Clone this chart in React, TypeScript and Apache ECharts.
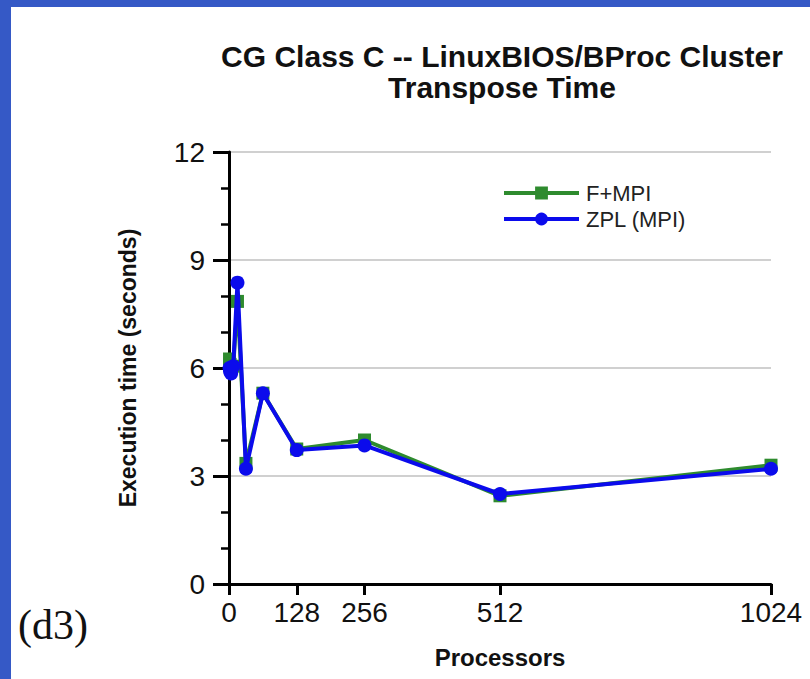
import React, { useEffect, useRef } from "react";
import * as echarts from "echarts";

const processors = [1, 2, 4, 8, 16, 32, 64, 128, 256, 512, 1024];
const fMpi = [6.25, 6.1, 6.0, 6.05, 7.85, 3.35, 5.3, 3.75, 4.0, 2.45, 3.3];
const zplMpi = [6.0, 5.9, 5.85, 6.05, 8.37, 3.2, 5.3, 3.72, 3.85, 2.5, 3.2];
const xTickValues = [0, 128, 256, 512, 1024];
const seriesNames = ["F+MPI", "ZPL (MPI)"];
const titleText = "CG Class C -- LinuxBIOS/BProc Cluster\nTranspose Time";
const xName = "Processors";
const yName = "Execution time (seconds)";
const panelLabel = "(d3)";

const SANS = "'Liberation Sans', Arial, Helvetica, sans-serif";

export default function App() {
  const ref = useRef<HTMLDivElement>(null);
  useEffect(() => {
    const chart = echarts.init(ref.current!, null, { renderer: "svg" });
    chart.setOption({
      animation: false,
      backgroundColor: "#ffffff",
      textStyle: { fontFamily: SANS },
      title: {
        text: titleText,
        left: 497,
        top: 36,
        textAlign: "center",
        textStyle: {
          fontFamily: SANS,
          fontWeight: "bold",
          fontSize: 30,
          lineHeight: 31,
          color: "#111",
        },
      },
      legend: {
        orient: "vertical",
        left: 497,
        top: 177,
        itemWidth: 75,
        itemHeight: 16,
        itemGap: 4,
        data: seriesNames,
        lineStyle: { width: 4 },
        textStyle: { fontFamily: SANS, fontSize: 22, color: "#222", padding: [0, 0, 0, 2] },
      },
      grid: { left: 229, right: 39, top: 152, bottom: 95 },
      xAxis: {
        type: "value",
        min: 0,
        max: 1024,
        interval: 128,
        name: xName,
        nameLocation: "middle",
        nameGap: 61,
        nameTextStyle: { fontFamily: SANS, fontWeight: "bold", fontSize: 24, color: "#111" },
        axisLine: { show: true, onZero: false, lineStyle: { color: "#000", width: 3 } },
        axisTick: {
          show: true,
          customValues: xTickValues,
          length: 11,
          lineStyle: { color: "#000", width: 3 },
        },
        axisLabel: {
          customValues: xTickValues,
          formatter: (v: number) => String(v),
          margin: 14,
          fontFamily: SANS,
          fontSize: 28,
          color: "#111",
        },
        splitLine: { show: false },
      },
      yAxis: {
        type: "value",
        min: 0,
        max: 12,
        interval: 3,
        name: yName,
        nameLocation: "middle",
        nameGap: 90,
        nameRotate: 90,
        nameTextStyle: { fontFamily: SANS, fontWeight: "bold", fontSize: 23, color: "#111" },
        axisLine: { show: true, lineStyle: { color: "#000", width: 3 } },
        axisTick: { show: true, length: 16, lineStyle: { color: "#000", width: 3 } },
        minorTick: { show: true, splitNumber: 3, length: 8, lineStyle: { color: "#000", width: 2.5 } },
        axisLabel: { margin: 24, fontFamily: SANS, fontSize: 28, color: "#111" },
        splitLine: { show: true, lineStyle: { color: "#d0d0d0", width: 2 } },
      },
      series: [
        {
          name: seriesNames[0],
          type: "line",
          data: processors.map((p, i) => [p, fMpi[i]]),
          symbol: "rect",
          symbolSize: 13,
          lineStyle: { color: "#2e8b2e", width: 4 },
          itemStyle: { color: "#2e8b2e" },
          z: 2,
        },
        {
          name: seriesNames[1],
          type: "line",
          data: processors.map((p, i) => [p, zplMpi[i]]),
          symbol: "circle",
          symbolSize: 14,
          lineStyle: { color: "#0b0bec", width: 4 },
          itemStyle: { color: "#0b0bec" },
          z: 3,
        },
      ],
      graphic: [
        { type: "rect", left: 0, top: 0, shape: { width: 11, height: 679 }, style: { fill: "#3559c6" }, z: 100 },
        { type: "rect", left: 0, top: 0, shape: { width: 810, height: 7 }, style: { fill: "#3559c6" }, z: 100 },
        {
          type: "text",
          left: 18,
          top: 604,
          style: {
            text: panelLabel,
            font: "42px 'Liberation Serif', 'DejaVu Serif', serif",
            fill: "#111",
          },
        },
      ],
    });
    return () => chart.dispose();
  }, []);
  return (
    <div
      ref={ref}
      style={{ position: "absolute", left: 0, top: 0, width: 810, height: 679, background: "#fff" }}
    />
  );
}
